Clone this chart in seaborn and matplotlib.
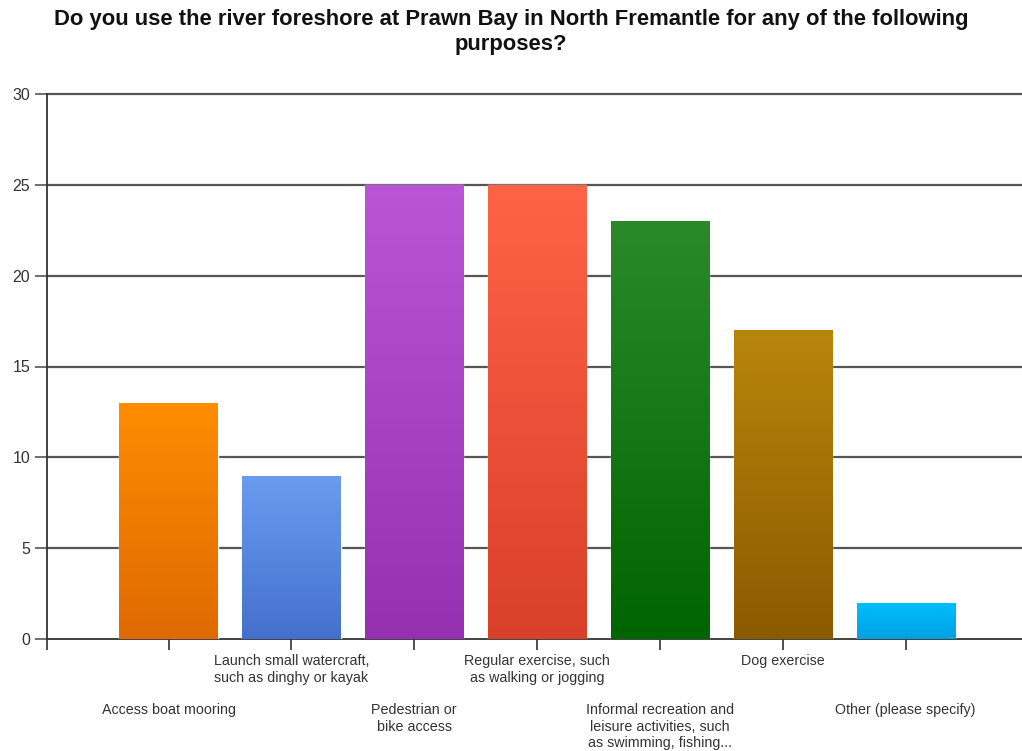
import numpy as np
import pandas as pd
import matplotlib
matplotlib.use("Agg")
import matplotlib.pyplot as plt
import matplotlib.colors as mcolors
import seaborn as sns

categories = [
    "Access boat mooring",
    "Launch small watercraft,\nsuch as dinghy or kayak",
    "Pedestrian or\nbike access",
    "Regular exercise, such\nas walking or jogging",
    "Informal recreation and\nleisure activities, such\nas swimming, fishing...",
    "Dog exercise",
    "Other (please specify)",
]
values = [13, 9, 25, 25, 23, 17, 2]
top_colors = ["#FF8C00", "#6A9CF0", "#BA55D6", "#FF6347", "#2A8A2A", "#B8860B", "#00BFFF"]
bottom_colors = ["#DE6A00", "#4370CC", "#9530B0", "#D9402A", "#006400", "#8B5A00", "#00A0E0"]
y_ticks = [0, 5, 10, 15, 20, 25, 30]
title = "Do you use the river foreshore at Prawn Bay in North Fremantle for any of the following\npurposes?"

df = pd.DataFrame({"category": categories, "value": values})

sns.set_theme(style="white")
plt.rcParams["font.family"] = ["Liberation Sans", "DejaVu Sans"]

fig = plt.figure(figsize=(10.22, 7.51), dpi=100)
ax = fig.add_axes([47 / 1022, 1 - 639 / 751, 1 - 47 / 1022 + 0.004, (639 - 94) / 751])

sns.barplot(data=df, x="category", y="value", hue="category", palette=top_colors,
            legend=False, width=0.8, ax=ax, saturation=1, zorder=3)

# gradient fill for each bar
grad = np.linspace(0, 1, 256).reshape(-1, 1)
for patch, ct, cb in zip(ax.patches, top_colors, bottom_colors):
    x0, y0 = patch.get_x(), patch.get_y()
    w, h = patch.get_width(), patch.get_height()
    cmap = mcolors.LinearSegmentedColormap.from_list("g", [cb, ct])
    im = ax.imshow(grad, extent=[x0, x0 + w, y0, y0 + h], origin="lower", cmap=cmap,
                   aspect="auto", zorder=4, interpolation="bicubic")
    im.set_clip_path(patch)

ax.set_xlim(-0.99, 6.98)
ax.set_ylim(0, 30)
ax.set_yticks(y_ticks)
ax.set_yticklabels([str(t) for t in y_ticks], fontsize=11.5, color="#333333")
for t in y_ticks[1:]:
    ax.axhline(t, color="#555555", lw=1.6, zorder=2, clip_on=False)

ax.set_xticks(range(len(categories)))
ax.set_xticklabels([])
ax.set_xticks([-0.99, 6.98], minor=True)
ax.tick_params(axis="x", which="both", direction="out", length=8, width=1.2, color="#333333", bottom=True)
ax.tick_params(axis="y", direction="out", length=9, width=1.2, color="#555555", left=True, pad=3)

for i, lab in enumerate(categories):
    ypos = -0.85 if i % 2 == 1 else -3.55
    ax.text(i, ypos, lab, ha="center", va="top", fontsize=10.3, color="#333333",
            linespacing=1.22, clip_on=False)

for s in ["top", "right"]:
    ax.spines[s].set_visible(False)
ax.spines["left"].set_color("#333333")
ax.spines["left"].set_linewidth(1.3)
ax.spines["bottom"].set_color("#333333")
ax.spines["bottom"].set_linewidth(1.3)
ax.set_xlabel("")
ax.set_ylabel("")

fig.text(0.5, 1 - 9 / 751, title, ha="center", va="top", fontsize=15.8, fontweight="bold",
         color="#111111", linespacing=1.25)

fig.savefig("out.png", dpi=100)
